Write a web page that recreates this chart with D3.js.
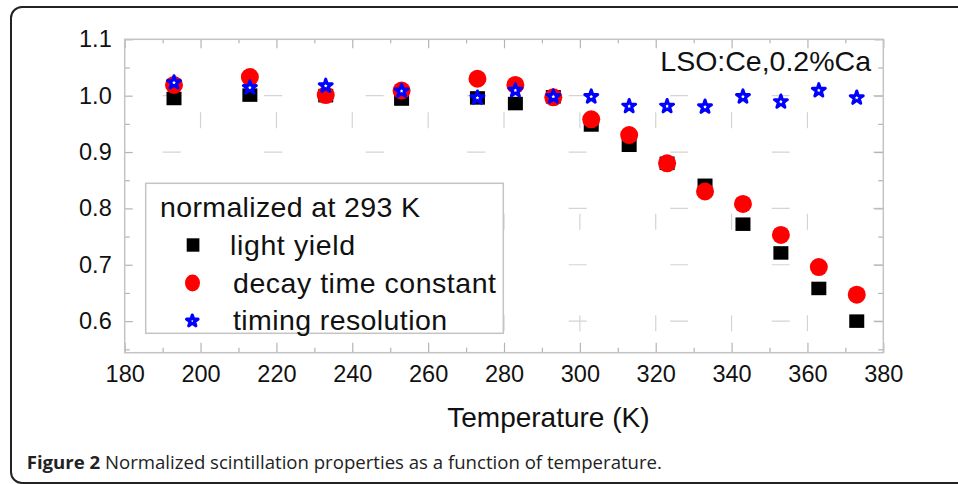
<!DOCTYPE html>
<html>
<head>
<meta charset="utf-8">
<script src="https://cdn.jsdelivr.net/npm/d3@7"></script>
<style>
  body { margin: 0; background: #fff; }
  svg { display: block; }
  .tick line { stroke: #b4b4b4; stroke-width: 1.2; }
</style>
</head>
<body>
<svg width="958" height="484"></svg>
<script>
// temperature scan, values normalized at 293 K
const temps = [193, 213, 233, 253, 273, 283, 293, 303, 313, 323, 333, 343, 353, 363, 373];
const lightYield = [0.995, 1.001, 1.0, 0.994, 0.996, 0.986, 0.998, 0.948, 0.912, 0.880, 0.841, 0.772, 0.721, 0.658, 0.600];
const decayTime = [1.019, 1.033, 1.001, 1.009, 1.030, 1.019, 0.997, 0.958, 0.930, 0.880, 0.830, 0.808, 0.753, 0.696, 0.647];
const timingRes = [1.025, 1.016, 1.019, 1.010, 0.998, 1.011, 1.0, 1.0, 0.983, 0.983, 0.982, 1.0, 0.991, 1.011, 0.998];

const xTicks = [180, 200, 220, 240, 260, 280, 300, 320, 340, 360, 380];
const xMinor = [190, 210, 230, 250, 270, 290, 310, 330, 350, 370];
const yTicks = [0.6, 0.7, 0.8, 0.9, 1.0, 1.1];
const yMinor = [0.55, 0.65, 0.75, 0.85, 0.95, 1.05];
const xGrid = [200, 220, 240, 260, 280, 300, 320, 340, 360];
const yGrid = [0.6, 0.7, 0.8, 0.9, 1.0];

const legendItems = ['light yield', 'decay time constant', 'timing resolution'];

const svg = d3.select('svg');
const font = '"Liberation Sans", Arial, sans-serif';

// outer figure box
svg.append('rect')
  .attr('x', 11).attr('y', 7)
  .attr('width', 1000).attr('height', 476)
  .attr('rx', 11)
  .attr('fill', 'none')
  .attr('stroke', '#222')
  .attr('stroke-width', 2);

const pLeft = 124.7, pRight = 883.3, pTop = 39.3, pBottom = 352.7;
const x = d3.scaleLinear().domain([180, 380]).range([pLeft, pRight]);
const y = d3.scaleLinear().domain([0.544, 1.1]).range([pBottom, pTop]);

// broken grid lines
svg.append('g').selectAll('line')
  .data(yGrid).enter().append('line')
    .attr('x1', pLeft).attr('x2', pRight)
    .attr('y1', d => y(d)).attr('y2', d => y(d))
    .attr('stroke', '#d4d4d4')
    .attr('stroke-width', 1.2)
    .attr('stroke-dasharray', '18,83.5')
    .attr('stroke-dashoffset', 63.5);

svg.append('g').selectAll('line')
  .data(xGrid).enter().append('line')
    .attr('x1', d => x(d)).attr('x2', d => x(d))
    .attr('y1', pTop).attr('y2', pBottom)
    .attr('stroke', '#d4d4d4')
    .attr('stroke-width', 1.2)
    .attr('stroke-dasharray', '16,85.5')
    .attr('stroke-dashoffset', 28.5);

// axes, ticks pointing inward
svg.append('g').attr('transform', `translate(0,${pBottom})`)
  .call(d3.axisBottom(x).tickValues(xTicks).tickSize(-10).tickPadding(12.5).tickFormat(d3.format('d')));
svg.append('g').attr('transform', `translate(0,${pBottom})`)
  .call(d3.axisBottom(x).tickValues(xMinor).tickSize(-5).tickFormat(''));
svg.append('g').attr('transform', `translate(0,${pTop})`)
  .call(d3.axisTop(x).tickValues(xTicks).tickSize(-9).tickFormat(''));
svg.append('g').attr('transform', `translate(0,${pTop})`)
  .call(d3.axisTop(x).tickValues(xMinor).tickSize(-4).tickFormat(''));

svg.append('g').attr('transform', `translate(${pLeft},0)`)
  .call(d3.axisLeft(y).tickValues(yTicks).tickSize(-8).tickPadding(13).tickFormat(d3.format('.1f')));
svg.append('g').attr('transform', `translate(${pLeft},0)`)
  .call(d3.axisLeft(y).tickValues(yMinor).tickSize(-5).tickFormat(''));
svg.append('g').attr('transform', `translate(${pRight},0)`)
  .call(d3.axisRight(y).tickValues(yTicks).tickSize(-9).tickFormat(''));
svg.append('g').attr('transform', `translate(${pRight},0)`)
  .call(d3.axisRight(y).tickValues(yMinor).tickSize(-5).tickFormat(''));

svg.selectAll('.domain').remove();
svg.selectAll('.tick text')
  .attr('font-family', font)
  .attr('font-size', 23.5)
  .attr('fill', '#111');

// frame
svg.append('rect')
  .attr('x', pLeft).attr('y', pTop)
  .attr('width', pRight - pLeft).attr('height', pBottom - pTop)
  .attr('fill', 'none')
  .attr('stroke', '#c4c4c4')
  .attr('stroke-width', 1.5);

// data markers
const star = d3.symbol().type(d3.symbolStar).size(52);

svg.append('g').selectAll('rect')
  .data(temps).enter().append('rect')
    .attr('x', d => x(d) - 7.5)
    .attr('y', (d, i) => y(lightYield[i]) - 6.75)
    .attr('width', 15).attr('height', 13.5)
    .attr('fill', '#000');

svg.append('g').selectAll('circle')
  .data(temps).enter().append('circle')
    .attr('cx', d => x(d))
    .attr('cy', (d, i) => y(decayTime[i]))
    .attr('r', 9)
    .attr('fill', '#ff0000');

svg.append('g').selectAll('path')
  .data(temps).enter().append('path')
    .attr('d', star)
    .attr('transform', (d, i) => `translate(${x(d)},${y(timingRes[i]) + 1})`)
    .attr('fill', '#fff')
    .attr('stroke', '#0000ff')
    .attr('stroke-width', 3)
    .attr('stroke-linejoin', 'round');

// legend
const lg = svg.append('g');
lg.append('rect')
  .attr('x', 145.7).attr('y', 183.3)
  .attr('width', 357.6).attr('height', 150)
  .attr('fill', '#fff')
  .attr('stroke', '#c4c4c4')
  .attr('stroke-width', 1.5);

lg.append('text')
  .attr('x', 160).attr('y', 216.7)
  .attr('font-family', font).attr('font-size', 28.5)
  .attr('textLength', 260).attr('lengthAdjust', 'spacing')
  .attr('fill', '#111')
  .text('normalized at 293 K');

const rowY = [245, 283, 320];
const rowLen = [125, 263, 214];
legendItems.forEach((name, i) => {
  lg.append('text')
    .attr('x', i === 0 ? 230 : 233).attr('y', rowY[i] + 9.8)
    .attr('font-family', font).attr('font-size', 28.5)
    .attr('textLength', rowLen[i]).attr('lengthAdjust', 'spacing')
    .attr('fill', '#111')
    .text(name);
});
lg.append('rect')
  .attr('x', 186.7).attr('y', rowY[0] - 6.7)
  .attr('width', 12.7).attr('height', 13.4)
  .attr('fill', '#000');
lg.append('ellipse')
  .attr('cx', 192.5).attr('cy', rowY[1])
  .attr('rx', 7.5).attr('ry', 8.4)
  .attr('fill', '#ff0000');
lg.append('path')
  .attr('d', d3.symbol().type(d3.symbolStar).size(40)())
  .attr('transform', `translate(192.3,${rowY[2] + 1})`)
  .attr('fill', '#fff')
  .attr('stroke', '#0000ff')
  .attr('stroke-width', 3.2)
  .attr('stroke-linejoin', 'round');

// sample label
svg.append('text')
  .attr('x', 871).attr('y', 70.7)
  .attr('text-anchor', 'end')
  .attr('font-family', font).attr('font-size', 28.5)
  .attr('fill', '#111')
  .text('LSO:Ce,0.2%Ca');

// axis title
svg.append('text')
  .attr('x', 548.4).attr('y', 426.7)
  .attr('text-anchor', 'middle')
  .attr('font-family', font).attr('font-size', 28)
  .attr('fill', '#111')
  .text('Temperature (K)');

// caption
const cap = svg.append('text')
  .attr('x', 26.7).attr('y', 469)
  .attr('font-family', '"Open Sans", sans-serif')
  .attr('font-size', 18.6)
  .attr('fill', '#222');
cap.append('tspan').attr('font-weight', 'bold').text('Figure 2');
cap.append('tspan').text(' Normalized scintillation properties as a function of temperature.');
</script>
</body>
</html>
